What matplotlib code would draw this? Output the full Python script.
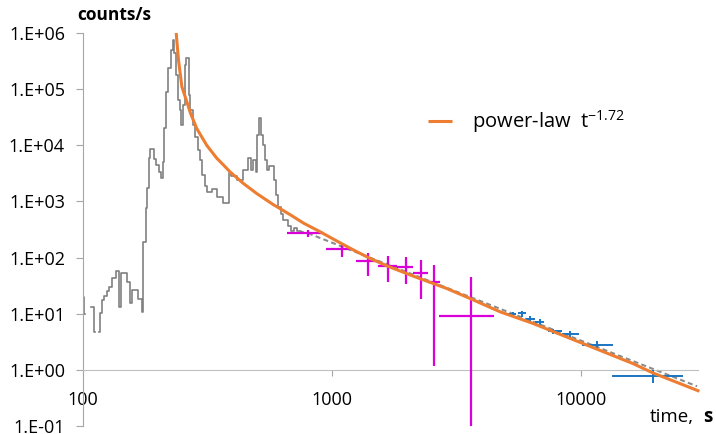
import numpy as np
import matplotlib.pyplot as plt
from matplotlib.ticker import FixedLocator, FuncFormatter, NullLocator

plt.rcParams['font.family'] = ['Open Sans', 'DejaVu Sans']

nan = np.nan

# binned light curve (bin start time, s / rate, counts/s); nan = empty bin
lc_time = [100, 101, 102, 107.7, 110.7, 111.5, 116, 117, 119.5, 121.8, 124.5,
           127.5, 131.1, 135.7, 139.8, 142.5, 149.9, 154.4, 156.8, 166.7, 172,
           174.6, 179, 181.3, 183.8, 186.1, 192.8, 196.4, 201.4, 205.2, 209,
           211.6, 215.6, 220.3, 225.2, 229.4, 232.9, 236.7, 239.6, 244.1, 247.4,
           252, 255.8, 259.1, 267.1, 269.7, 276.6, 282.6, 288.8, 296.1, 301.7,
           308.8, 316.1, 331, 346.8, 363.3, 384.1, 391.3, 416.3, 437.3, 459.4,
           471, 479.8, 493.3, 497.9, 507.3, 516.8, 526.4, 536.3, 546.3, 556.6,
           583, 594, 605, 622, 633.6, 664, 682, 702, 721, 748.7, 762.7]
lc_rate = [20, 10, nan, 13, 4.7, nan, 4.7, 10.3, 17.4, 21, 25,
           30, 43, 58, 13, 53, 37, 15.4, 26, 18.6, 10.7,
           188, 750, 1700, 5900, 8500, 5600, 4400, 3300, 2600, 5000,
           20000, 89000, 235000, 500000, 750000, 435000, 180000, 64000, 42000, 23000,
           52000, 270000, 358000, 78000, 42000, 23000, 14000, 8200, 5400, 2900,
           1900, 1500, 1650, 1190, 930, 3200, 2800, 2400, 3600, 5900,
           3600, 5400, 3300, 15000, 30000, 15000, 10000, 5400, 3600, 4200,
           2400, 1300, 790, 600, 464, 360, 300, 340, 300, 284, 284]

# power-law fit curve
fit_time = [236.7, 241.8, 249.5, 262.8, 269.7, 286.1, 313.9, 344.4, 366.6,
            389.8, 440, 498.8, 580.5, 679.3, 767.4, 897, 1048, 1221, 1425,
            1664, 2112, 2890, 3580, 4733, 6424, 8743, 11900, 16190, 19460, 29870]
fit_rate = [1.0e6, 3.3e5, 1.1e5, 5.5e4, 3.8e4, 2.0e4, 1.0e4, 5.9e3, 4.45e3,
            3.35e3, 2.1e3, 1.38e3, 880, 580, 412, 287, 196, 136, 96,
            71, 47, 28.1, 18.7, 10.8, 6.7, 3.86, 2.23, 1.29, 0.88, 0.416]

# late-time trend
trend_time = [800, 29230]
trend_rate = [272, 0.51]

# first set of late points (magenta)
m_time = [803, 1100, 1391, 1683, 1977, 2278, 2561, 3606]
m_time_lo = [657.6, 946, 1245, 1535, 1820, 2121, 2436, 2698]
m_time_hi = [922.5, 1199, 1535, 1820, 2121, 2436, 2715, 4485]
m_rate = [269, 141, 86.3, 71.1, 68.3, 54.2, 36.9, 9.14]
m_rate_lo = [228, 103, 47.2, 36, 33.6, 18.2, 1.17, 0.1]
m_rate_hi = [308, 183, 121, 106, 103, 90, 73.2, 44.2]

# second set of late points (blue)
b_time = [5333, 5795, 6237, 6843, 7742, 9036, 11560, 19520]
b_time_lo = [5105, 5598, 6012, 6536, 7391, 8358, 10066, 13270]
b_time_hi = [5480, 6012, 6536, 7122, 8358, 9842, 13390, 25590]
b_rate = [9.7, 10.2, 8.2, 7.0, 4.93, 4.36, 2.82, 0.79]
b_rate_lo = [8.7, 8.8, 7.0, 6.2, 4.43, 3.86, 2.45, 0.58]
b_rate_hi = [10.8, 11.1, 9.0, 7.9, 5.44, 4.87, 3.27, 0.98]

W, H = 716, 434
fig = plt.figure(figsize=(W / 100, H / 100), dpi=100)
ax = fig.add_axes([83 / W, (H - 426) / H, (698 - 83) / W, (426 - 33) / H])

ax.plot(lc_time, lc_rate, drawstyle='steps-post', color='#808080', lw=1.2, zorder=2)
ax.plot(trend_time, trend_rate, color='#8C8C8C', lw=1.5, ls=(0, (2.4, 1.6)), zorder=2)


def errs(c, lo, hi):
    c, lo, hi = map(np.asarray, (c, lo, hi))
    return [c - lo, hi - c]


ax.errorbar(m_time, m_rate, xerr=errs(m_time, m_time_lo, m_time_hi),
            yerr=errs(m_rate, m_rate_lo, m_rate_hi), fmt='none',
            ecolor='#D900D9', elinewidth=1.6, capsize=0, zorder=3)
ax.errorbar(b_time, b_rate, xerr=errs(b_time, b_time_lo, b_time_hi),
            yerr=errs(b_rate, b_rate_lo, b_rate_hi), fmt='none',
            ecolor='#1A75C4', elinewidth=1.4, capsize=0, zorder=3)

fit_line, = ax.plot(fit_time, fit_rate, color='#ED7D31', lw=2.2, zorder=4,
                    clip_on=False, solid_capstyle='butt')

ax.set_xscale('log')
ax.set_yscale('log')
ax.set_xlim(100, 29490)
ax.set_ylim(0.1, 1e6)

for s in ('top', 'right'):
    ax.spines[s].set_visible(False)
ax.spines['bottom'].set_position(('data', 1))
ax.spines['bottom'].set_color('#C0C0C0')
ax.spines['left'].set_color('#A6A6A6')

ax.xaxis.set_major_locator(FixedLocator([100, 1000, 10000]))
ax.xaxis.set_minor_locator(NullLocator())
ax.yaxis.set_major_locator(FixedLocator([10.0 ** k for k in range(-1, 7)]))
ax.yaxis.set_minor_locator(NullLocator())
ax.xaxis.set_major_formatter(FuncFormatter(lambda v, p: f'{v:.0f}'))
ax.yaxis.set_major_formatter(
    FuncFormatter(lambda v, p: f'1.E{int(round(np.log10(v))):+03d}'))
ax.tick_params(axis='x', length=4, color='#A6A6A6', labelsize=13, pad=11,
               labelcolor='#000000')
ax.tick_params(axis='y', length=5, color='#A6A6A6', labelsize=13, pad=8,
               labelcolor='#000000')

fig.text(114 / W, 1 - 15 / H, 'counts/s', ha='center', va='center',
         fontsize=12.5, fontweight='bold')
fig.text(694 / W, 1 - 417 / H, 'time,', ha='right', va='center', fontsize=13.5)
fig.text(703 / W, 1 - 417 / H, 's', ha='left', va='center', fontsize=13.5,
         fontweight='bold')

ax.legend([fit_line], [r'power-law  t$^{\mathregular{-1.72}}$'],
          loc='center left', bbox_to_anchor=(410 / W, 1 - 122 / H),
          bbox_transform=fig.transFigure, frameon=False, fontsize=14.5,
          handlelength=1.2, handletextpad=1.0)

fig.savefig('out.png', dpi=100)
